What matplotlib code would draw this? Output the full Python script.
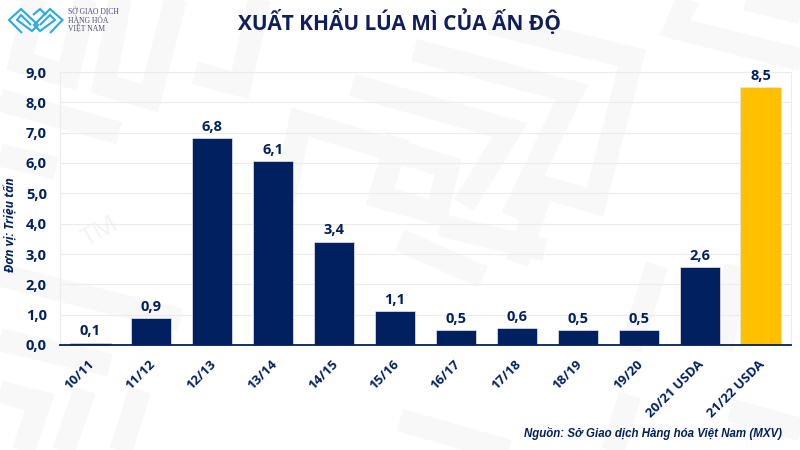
import matplotlib
matplotlib.use("Agg")
from matplotlib import pyplot as plt
from matplotlib.transforms import ScaledTranslation

NAVY = "#002060"
GOLD = "#FFC000"
GRID = "#ececec"
WATERMARK = "#f8f8f8"
CYAN = "#29abe2"

seasons = ["10/11", "11/12", "12/13", "13/14", "14/15", "15/16", "16/17", "17/18",
           "18/19", "19/20", "20/21 USDA", "21/22 USDA"]
exports = [0.08, 0.89, 6.82, 6.05, 3.41, 1.13, 0.5, 0.57, 0.49, 0.5, 2.57, 8.5]
labels = ["0,1", "0,9", "6,8", "6,1", "3,4", "1,1", "0,5", "0,6", "0,5", "0,5", "2,6", "8,5"]
y_ticks = [0, 1, 2, 3, 4, 5, 6, 7, 8, 9]
y_tick_labels = ["0,0", "1,0", "2,0", "3,0", "4,0", "5,0", "6,0", "7,0", "8,0", "9,0"]

# background maze pattern, in pixels of the 800x450 picture
watermark_paths = [
    [(490, 23), (632, 58), (595, 202), (543, 187), (517, 263)],
    [(414, 50), (572, 92), (512, 217)],
    [(352, 85), (510, 130), (464, 205)],
    [(270, 270), (300, 122), (448, 167), (437, 213), (380, 197), (398, 137)],
    [(38, -10), (20, 62), (68, 76), (88, -10)],
    [(122, -10), (104, 85), (150, 98), (178, -10)],
    [(195, 73), (240, 85), (262, -10)],
    [(0, 100), (119, 133)],
    [(0, 155), (56, 168)],
    [(0, 275), (180, 320)],
    [(0, 340), (110, 365)],
    [(0, 392), (40, 402), (20, 460)],
    [(85, 390), (60, 460)],
    [(140, 390), (118, 460)],
    [(400, 240), (483, 277)],
    [(440, 225), (545, 250)],
    [(400, 420), (540, 460)],
    [(657, 265), (630, 350)],
    [(630, 395), (610, 460)],
    [(730, 410), (810, 432)],
    [(735, 265), (722, 350)],
    [(690, -5), (675, 28), (810, 62)],
    [(730, -5), (810, 15)],
]
logo_paths = [
    [(22, 33), (9, 20), (21, 9), (38, 25), (32, 31), (17, 20), (21, 15), (31, 25)],
    [(50, 33), (62.5, 20), (50, 9), (34, 25), (40, 31), (55, 20), (50, 15), (40, 25)],
    [(33, 15), (40, 9), (46, 15)],
]
logo_lines = ["SỞ GIAO DỊCH", "HÀNG HÓA", "VIỆT NAM"]
logo_line_y = [12, 21, 29]

fig = plt.figure(figsize=(8, 4.5), dpi=100, facecolor="white")
plt.rcParams["font.family"] = ["Open Sans", "DejaVu Sans"]

bg = fig.add_axes([0, 0, 1, 1], zorder=0)
bg.set_xlim(0, 800)
bg.set_ylim(450, 0)
bg.axis("off")
for path in watermark_paths:
    bg.plot([p[0] for p in path], [p[1] for p in path], color=WATERMARK, lw=16.5,
            solid_joinstyle="miter", solid_capstyle="butt")
for path in logo_paths:
    bg.plot([p[0] for p in path], [p[1] for p in path], color=CYAN, lw=1.5,
            solid_joinstyle="miter", solid_capstyle="butt")
bg.text(100, 232, "TM", color="#f4f4f4", fontsize=19, rotation=30, ha="center", va="center")

# px: x 60..791, y 72..345
ax = fig.add_axes([60 / 800, 1 - 345 / 450, 731 / 800, 273 / 450], zorder=1)
ax.patch.set_alpha(0)
colors = [NAVY] * 11 + [GOLD]
ax.bar(range(len(seasons)), exports, width=0.66, color=colors, edgecolor="#e8e8e8",
       linewidth=0.5, zorder=3)
for i, (val, lab) in enumerate(zip(exports, labels)):
    ax.annotate(lab, (i, val), xytext=(0, 3), textcoords="offset points", ha="center",
                va="bottom", fontsize=10.5, fontweight="bold", color=NAVY, zorder=4)

ax.set_xlim(-0.5, 11.5)
ax.set_ylim(0, 9)
ax.set_yticks(y_ticks, y_tick_labels)
ax.set_xticks(range(len(seasons)), seasons, rotation=45, ha="right", rotation_mode="anchor")
ax.tick_params(axis="both", length=0, labelcolor=NAVY)
ax.tick_params(axis="y", pad=9.5, labelsize=10.5)
ax.tick_params(axis="x", pad=9, labelsize=9.5)
shift_left = ScaledTranslation(-1.8 / 72, 0, fig.dpi_scale_trans)
for tick in ax.get_xticklabels():
    tick.set_fontweight("bold")
    tick.set_transform(tick.get_transform() + shift_left)
for tick in ax.get_yticklabels():
    tick.set_fontweight("bold")
ax.grid(axis="y", color=GRID, lw=0.8, zorder=0)
for side in ["top", "right", "left"]:
    ax.spines[side].set_color(GRID)
ax.spines["bottom"].set_color(NAVY)
ax.spines["bottom"].set_linewidth(1.3)
ax.spines["bottom"].set_zorder(5)

fig.text(400 / 800, 1 - 22 / 450, "XUẤT KHẨU LÚA MÌ CỦA ẤN ĐỘ", ha="center", va="center",
         fontsize=15, fontweight="bold", color="#0f1f5c", zorder=5)
fig.text(11 / 800, 1 - 225 / 450, "Đơn vị: Triệu tấn", rotation=90, ha="center", va="center",
         fontsize=8.8, fontweight="bold", style="italic", color=NAVY, zorder=5)
fig.text(782 / 800, 1 - 434 / 450, "Nguồn: Sở Giao dịch Hàng hóa Việt Nam (MXV)", ha="right",
         va="center", family=["Liberation Sans", "DejaVu Sans"], fontsize=8.3,
         fontweight="bold", style="italic", color=NAVY, zorder=5)
for y, line in zip(logo_line_y, logo_lines):
    fig.text(68 / 800, 1 - y / 450, line, ha="left", va="center", fontsize=5.5,
             family=["Liberation Serif", "DejaVu Sans"], color="#4a4a7a", zorder=5)

fig.savefig("out.png", dpi=100)
